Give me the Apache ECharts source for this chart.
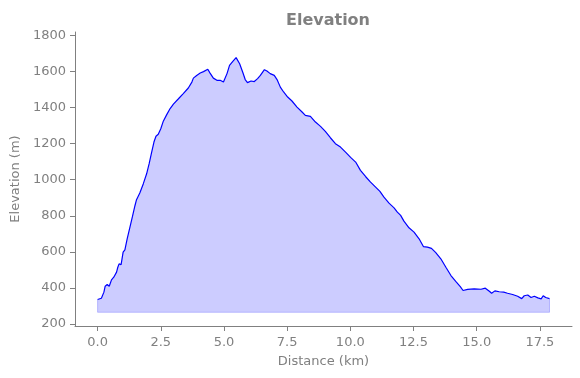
<!DOCTYPE html>
<html>
<head>
<meta charset="utf-8">
<script src="https://cdn.jsdelivr.net/npm/echarts@6/dist/echarts.min.js"></script>
<style>
  html, body { margin: 0; padding: 0; background: #fff; }
  #chart { width: 580px; height: 378px; }
</style>
</head>
<body>
<div id="chart"></div>
<script>
// distance along the route (km) and elevation (m)
const distKm = [0, 0.15, 0.25, 0.30, 0.38, 0.46, 0.55, 0.64, 0.75, 0.80, 0.85, 0.93, 1.01, 1.08, 1.17, 1.28, 1.38, 1.48, 1.54, 1.67,
  1.81, 1.94, 2.04, 2.14, 2.23, 2.31, 2.40, 2.50, 2.60, 2.73, 2.87, 3.00, 3.19, 3.39, 3.59, 3.73, 3.79, 3.92, 4.06, 4.19,
  4.36, 4.45, 4.58, 4.72, 4.85, 4.98, 5.12, 5.22, 5.35, 5.48, 5.62, 5.75, 5.84, 5.93, 6.07, 6.20, 6.33, 6.44, 6.60, 6.70,
  6.83, 6.99, 7.10, 7.23, 7.36, 7.52, 7.69, 7.89, 8.09, 8.22, 8.42, 8.62, 8.82, 9.01, 9.21, 9.41, 9.61, 9.81, 10.01, 10.21,
  10.40, 10.60, 10.80, 11.00, 11.17, 11.33, 11.53, 11.73, 11.86, 11.99, 12.12, 12.32, 12.52, 12.72, 12.89, 13.05, 13.21, 13.38, 13.58, 13.78,
  13.98, 14.17, 14.35, 14.46, 14.64, 14.90, 15.17, 15.34, 15.50, 15.59, 15.72, 15.89, 16.07, 16.22, 16.42, 16.62, 16.78, 16.88, 17.02, 17.15,
  17.28, 17.42, 17.55, 17.63, 17.73, 17.88];
const elevM = [335, 342, 376, 409, 418, 409, 444, 459, 487, 514, 533, 529, 598, 611, 672, 737, 796, 857, 889, 926,
  978, 1033, 1089, 1153, 1209, 1241, 1252, 1283, 1325, 1360, 1395, 1420, 1448, 1478, 1509, 1542, 1564, 1579, 1592, 1600,
  1613, 1592, 1564, 1552, 1552, 1542, 1589, 1635, 1657, 1678, 1644, 1594, 1556, 1539, 1548, 1545, 1561, 1579, 1611, 1603,
  1589, 1579, 1556, 1514, 1487, 1459, 1437, 1403, 1376, 1357, 1352, 1320, 1296, 1268, 1233, 1200, 1181, 1153, 1124, 1098,
  1052, 1018, 987, 959, 935, 903, 870, 844, 820, 802, 770, 733, 709, 672, 629, 626, 619, 595, 561, 514,
  468, 436, 407, 385, 391, 394, 392, 398, 381, 370, 383, 378, 376, 370, 363, 353, 340, 356, 360, 346,
  353, 344, 339, 356, 346, 340];
const fillBase = 264;
const xTicks = [0, 2.5, 5, 7.5, 10, 12.5, 15, 17.5];
const yTicks = [200, 400, 600, 800, 1000, 1200, 1400, 1600, 1800];

const grey = '#808080';
const font = 'DejaVu Sans';

const profile = distKm.map((d, i) => [d, elevM[i]]);
const last = distKm.length - 1;
// outline of the filled area (left side, bottom, right side)
const fillEdge = [
  [distKm[0], elevM[0]], [distKm[0], fillBase],
  [distKm[last], fillBase], [distKm[last], elevM[last]]
];

const chart = echarts.init(document.getElementById('chart'));
chart.setOption({
  animation: false,
  title: {
    text: 'Elevation',
    left: 323, top: 8, textAlign: 'center',
    textStyle: { color: grey, fontFamily: font, fontWeight: 'bold', fontSize: 16 }
  },
  grid: { left: 75, right: 8, top: 32, bottom: 52, containLabel: false, outerBoundsMode: 'none' },
  xAxis: {
    type: 'value', min: -0.894, max: 18.77,
    name: 'Distance (km)', nameLocation: 'middle', nameGap: 29,
    nameTextStyle: { color: grey, fontFamily: font, fontSize: 13 },
    axisLine: { onZero: false, lineStyle: { color: grey, width: 1 } },
    axisTick: { show: true, length: 5, lineStyle: { color: grey }, customValues: xTicks },
    axisLabel: {
      color: grey, fontFamily: font, fontSize: 13, margin: 10,
      customValues: xTicks, formatter: v => v.toFixed(1)
    },
    splitLine: { show: false }
  },
  yAxis: {
    type: 'value', min: 188, max: 1820,
    name: 'Elevation (m)', nameLocation: 'middle', nameGap: 52,
    nameTextStyle: { color: grey, fontFamily: font, fontSize: 13 },
    axisLine: { show: true, onZero: false, lineStyle: { color: grey, width: 1 } },
    axisTick: { show: true, length: 5, lineStyle: { color: grey }, customValues: yTicks },
    axisLabel: {
      color: grey, fontFamily: font, fontSize: 13, margin: 9,
      customValues: yTicks, formatter: v => String(v)
    },
    splitLine: { show: false }
  },
  series: [
    {
      type: 'line', data: fillEdge, symbol: 'none', silent: true,
      lineStyle: { color: 'rgba(0,0,255,0.22)', width: 1 }
    },
    {
      type: 'line', data: profile, symbol: 'none',
      lineStyle: { color: '#0000ff', width: 1.2 },
      areaStyle: { color: 'rgba(0,0,255,0.2)', origin: fillBase, opacity: 1 }
    }
  ]
});
</script>
</body>
</html>
